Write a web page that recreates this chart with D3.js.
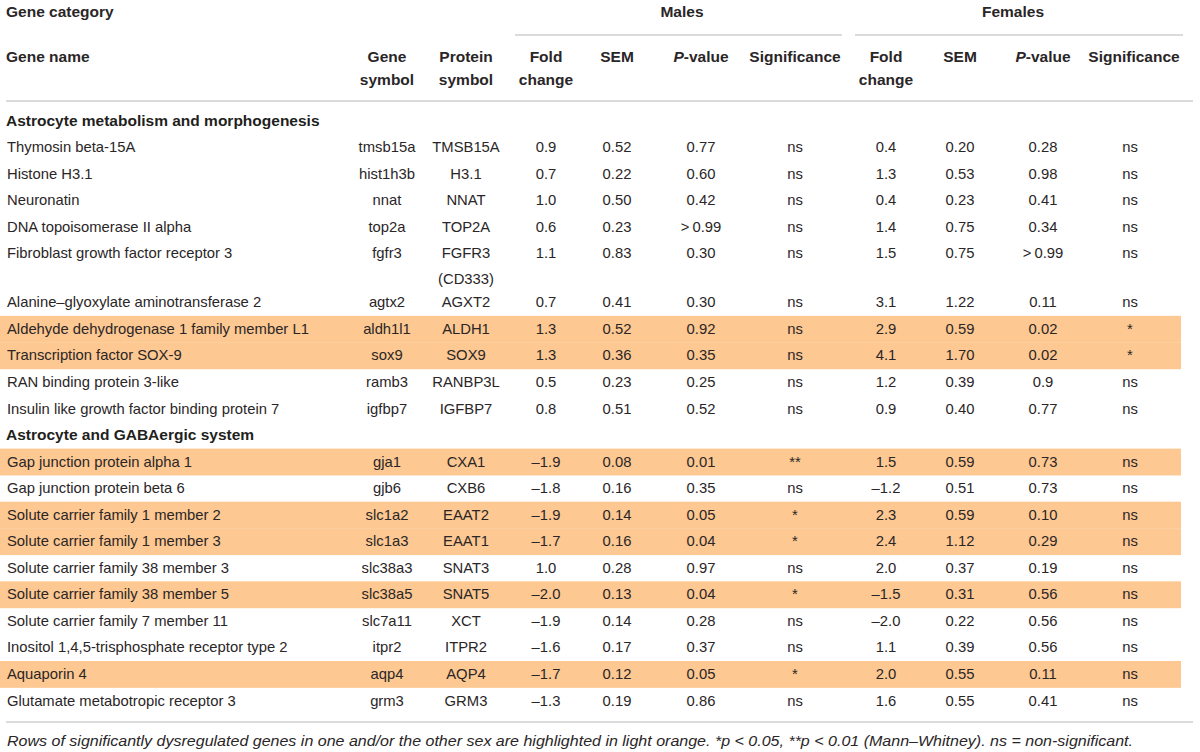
<!DOCTYPE html>
<html lang="en">
<head>
  <meta charset="UTF-8">
  <title>Astrocyte gene expression</title>
  <script src="https://d3js.org/d3.v7.min.js"></script>
  <style>
    body { margin: 0; background: #fff; }
    svg text { font-family: "Liberation Sans", Arial, sans-serif; fill: #2a2627; }
    .hd { font-weight: bold; font-size: 15.5px; fill: #231f20; }
    .cell { font-size: 14.8px; }
  </style>
</head>
<body>
  <svg width="1200" height="752"></svg>

  <script>
    // Sections and rows of the table
    const sections = ["Astrocyte metabolism and morphogenesis", "Astrocyte and GABAergic system"];
    const rowSection = [0, 0, 0, 0, 0, 0, 0, 0, 0, 0, 1, 1, 1, 1, 1, 1, 1, 1, 1, 1];
    const geneNames = [
      "Thymosin beta-15A", "Histone H3.1", "Neuronatin", "DNA topoisomerase II alpha",
      "Fibroblast growth factor receptor 3", "Alanine–glyoxylate aminotransferase 2",
      "Aldehyde dehydrogenase 1 family member L1", "Transcription factor SOX-9",
      "RAN binding protein 3-like", "Insulin like growth factor binding protein 7",
      "Gap junction protein alpha 1", "Gap junction protein beta 6",
      "Solute carrier family 1 member 2", "Solute carrier family 1 member 3",
      "Solute carrier family 38 member 3", "Solute carrier family 38 member 5",
      "Solute carrier family 7 member 11", "Inositol 1,4,5-trisphosphate receptor type 2",
      "Aquaporin 4", "Glutamate metabotropic receptor 3"
    ];
    const geneSymbols = ["tmsb15a", "hist1h3b", "nnat", "top2a", "fgfr3", "agtx2", "aldh1l1", "sox9", "ramb3", "igfbp7",
      "gja1", "gjb6", "slc1a2", "slc1a3", "slc38a3", "slc38a5", "slc7a11", "itpr2", "aqp4", "grm3"];
    const proteinSymbols = ["TMSB15A", "H3.1", "NNAT", "TOP2A", "FGFR3\n(CD333)", "AGXT2", "ALDH1", "SOX9", "RANBP3L", "IGFBP7",
      "CXA1", "CXB6", "EAAT2", "EAAT1", "SNAT3", "SNAT5", "XCT", "ITPR2", "AQP4", "GRM3"];
    const maleFold = [0.9, 0.7, 1.0, 0.6, 1.1, 0.7, 1.3, 1.3, 0.5, 0.8, -1.9, -1.8, -1.9, -1.7, 1.0, -2.0, -1.9, -1.6, -1.7, -1.3];
    const maleSem = ["0.52", "0.22", "0.50", "0.23", "0.83", "0.41", "0.52", "0.36", "0.23", "0.51",
      "0.08", "0.16", "0.14", "0.16", "0.28", "0.13", "0.14", "0.17", "0.12", "0.19"];
    const maleP = ["0.77", "0.60", "0.42", ">0.99", "0.30", "0.30", "0.92", "0.35", "0.25", "0.52",
      "0.01", "0.35", "0.05", "0.04", "0.97", "0.04", "0.28", "0.37", "0.05", "0.86"];
    const maleSig = ["ns", "ns", "ns", "ns", "ns", "ns", "ns", "ns", "ns", "ns",
      "**", "ns", "*", "*", "ns", "*", "ns", "ns", "*", "ns"];
    const femaleFold = [0.4, 1.3, 0.4, 1.4, 1.5, 3.1, 2.9, 4.1, 1.2, 0.9, 1.5, -1.2, 2.3, 2.4, 2.0, -1.5, -2.0, 1.1, 2.0, 1.6];
    const femaleSem = ["0.20", "0.53", "0.23", "0.75", "0.75", "1.22", "0.59", "1.70", "0.39", "0.40",
      "0.59", "0.51", "0.59", "1.12", "0.37", "0.31", "0.22", "0.39", "0.55", "0.55"];
    const femaleP = ["0.28", "0.98", "0.41", "0.34", ">0.99", "0.11", "0.02", "0.02", "0.9", "0.77",
      "0.73", "0.73", "0.10", "0.29", "0.19", "0.56", "0.56", "0.56", "0.11", "0.41"];
    const femaleSig = ["ns", "ns", "ns", "ns", "ns", "ns", "*", "*", "ns", "ns",
      "ns", "ns", "ns", "ns", "ns", "ns", "ns", "ns", "ns", "ns"];
    const footnote = "Rows of significantly dysregulated genes in one and/or the other sex are highlighted in light orange. *p < 0.05, **p < 0.01 (Mann–Whitney). ns = non-significant.";

    const svg = d3.select("svg");
    const orange = "#fdc891";
    const rule = "#cfcfcf";
    const rowH = 26.55;

    // column centres (first column is left aligned)
    const cols = ["name", "gene", "protein", "mFold", "mSem", "mP", "mSig", "fFold", "fSem", "fP", "fSig"];
    const colX = d3.scaleOrdinal().domain(cols)
      .range([7, 387, 466, 546, 617, 701, 795, 886, 960, 1043, 1130]);

    const fmtFold = v => (v < 0 ? "\u2013" : "") + d3.format(".1f")(Math.abs(v));
    const fmtP = v => v.replace(">", ">\u2009");

    // build list of table lines (section headers + genes)
    const lines = [];
    geneNames.forEach((g, i) => {
      if (i === 0 || rowSection[i] !== rowSection[i - 1]) lines.push({ type: "section", text: sections[rowSection[i]] });
      const sig = maleSig[i] !== "ns" || femaleSig[i] !== "ns";
      lines.push({
        type: "gene", hl: sig,
        name: g, gene: geneSymbols[i], protein: proteinSymbols[i],
        mFold: fmtFold(maleFold[i]), mSem: maleSem[i], mP: fmtP(maleP[i]), mSig: maleSig[i],
        fFold: fmtFold(femaleFold[i]), fSem: femaleSem[i], fP: fmtP(femaleP[i]), fSig: femaleSig[i],
        nLines: proteinSymbols[i].split("\n").length
      });
    });
    let yc = 120;
    lines.forEach(l => {
      l.y = yc;
      l.h = l.nLines > 1 ? rowH + 22.5 : rowH;
      yc += l.h;
    });

    // highlight bands
    svg.append("g").selectAll("rect")
      .data(lines.filter(l => l.hl))
      .join("rect")
      .attr("x", 0)
      .attr("y", d => d.y - 12.5)
      .attr("width", 1181)
      .attr("height", d => d.h + 0.3)
      .attr("fill", orange);

    // header
    const head = svg.append("g").attr("class", "hd");
    head.append("text").attr("x", 6).attr("y", 17).text("Gene category");
    head.append("text").attr("x", 682).attr("y", 17).attr("text-anchor", "middle").text("Males");
    head.append("text").attr("x", 1013).attr("y", 17).attr("text-anchor", "middle").text("Females");
    head.append("text").attr("x", 6).attr("y", 62).text("Gene name");

    const subHead = [
      ["gene", "Gene", "symbol"], ["protein", "Protein", "symbol"], ["mFold", "Fold", "change"],
      ["mSem", "SEM"], ["mP", "P-value"], ["mSig", "Significance"], ["fFold", "Fold", "change"],
      ["fSem", "SEM"], ["fP", "P-value"], ["fSig", "Significance"]
    ];
    subHead.forEach(([c, ...txt]) => {
      txt.forEach((t, k) => {
        const tx = head.append("text").attr("x", colX(c) + (c === "fSig" ? 4 : 0))
          .attr("y", 62 + k * 23).attr("text-anchor", "middle");
        if (t === "P-value") {
          tx.append("tspan").style("font-style", "italic").text("P");
          tx.append("tspan").text("-value");
        } else tx.text(t);
      });
    });

    // rules
    const rules = [[515, 842, 35], [855, 1183, 35], [6, 1193, 101], [6, 1193, 722]];
    svg.append("g").selectAll("line")
      .data(rules)
      .join("line")
      .attr("x1", d => d[0]).attr("x2", d => d[1])
      .attr("y1", d => d[2]).attr("y2", d => d[2])
      .attr("stroke", rule).attr("stroke-width", 1.5);

    // section titles
    svg.append("g").selectAll("text")
      .data(lines.filter(l => l.type === "section"))
      .join("text")
      .attr("class", "hd")
      .attr("x", 6)
      .attr("y", d => d.y + 5.5)
      .text(d => d.text);

    // gene rows
    const geneRows = svg.append("g").selectAll("g")
      .data(lines.filter(l => l.type === "gene"))
      .join("g")
      .attr("transform", d => `translate(0,${d.y + 5.5})`);

    cols.forEach(c => {
      geneRows.append("text")
        .attr("class", "cell")
        .attr("x", colX(c))
        .attr("text-anchor", c === "name" ? "start" : "middle")
        .each(function(d) {
          const parts = d[c].split("\n");
          d3.select(this).selectAll("tspan")
            .data(parts)
            .join("tspan")
            .attr("x", colX(c))
            .attr("dy", (p, k) => k === 0 ? 0 : 26)
            .text(p => p);
        });
    });

    svg.append("text")
      .attr("x", 7)
      .attr("y", 746)
      .attr("textLength", 1126)
      .attr("lengthAdjust", "spacingAndGlyphs")
      .style("font-size", "14px")
      .style("font-style", "italic")
      .text(footnote);
  </script>
</body>
</html>
